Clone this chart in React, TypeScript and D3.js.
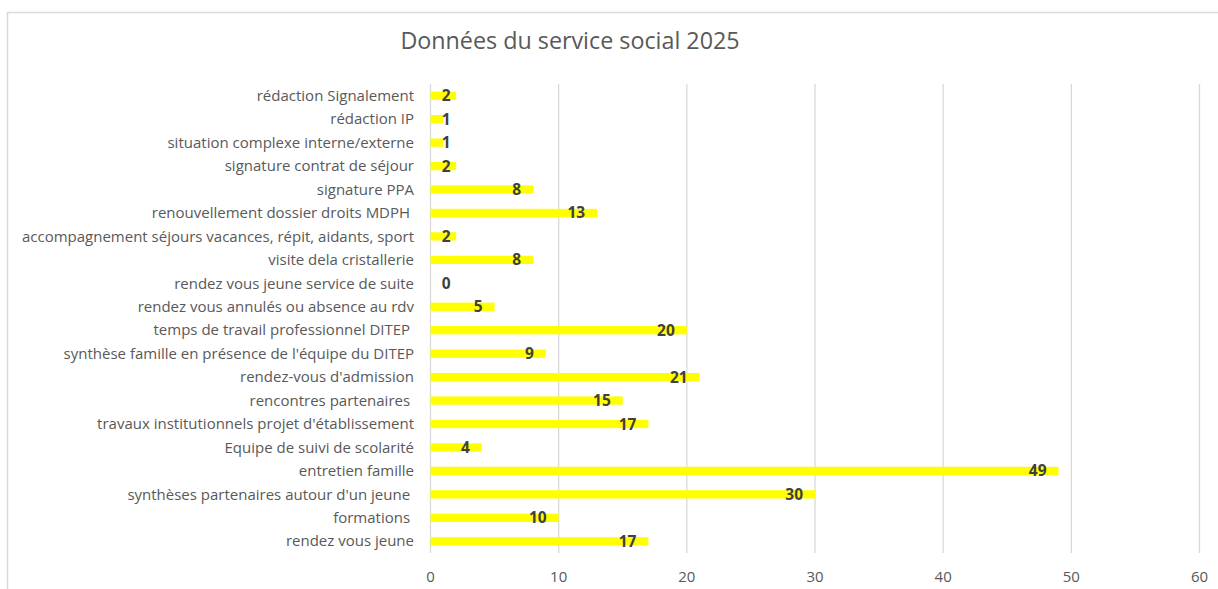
import React from "react";
import * as d3 from "d3";

const title = "Données du service social 2025";
const categories = [
  "rédaction Signalement",
  "rédaction IP",
  "situation complexe interne/externe",
  "signature contrat de séjour",
  "signature PPA",
  "renouvellement dossier droits MDPH ",
  "accompagnement séjours vacances, répit, aidants, sport",
  "visite dela cristallerie",
  "rendez vous jeune service de suite",
  "rendez vous annulés ou absence au rdv",
  "temps de travail professionnel DITEP ",
  "synthèse famille en présence de l'équipe du DITEP",
  "rendez-vous d'admission",
  "rencontres partenaires ",
  "travaux institutionnels projet d'établissement",
  "Equipe de suivi de scolarité",
  "entretien famille",
  "synthèses partenaires autour d'un jeune ",
  "formations ",
  "rendez vous jeune",
];
const values = [2, 1, 1, 2, 8, 13, 2, 8, 0, 5, 20, 9, 21, 15, 17, 4, 49, 30, 10, 17];
const ticks = [0, 10, 20, 30, 40, 50, 60];

const W = 1218;
const H = 589;
const FONT = "'Open Sans', 'Noto Sans', sans-serif";

export default function App() {
  const x = d3.scaleLinear().domain([0, 60]).range([430.5, 1199.5]);
  const y = d3.scaleBand<string>().domain(categories).range([84, 553]).padding(0);
  const bh = 8.3;
  const labelW = (v: number) => String(v).length * 9;

  return (
    <svg
      width={W}
      height={H}
      style={{ position: "absolute", left: 0, top: 0, background: "#fff" }}
    >
      <rect x={7.5} y={12.5} width={1230} height={600} fill="#fff" stroke="#d9d9d9" strokeWidth={1.5} />
      <text x={570} y={49} textAnchor="middle" fontFamily={FONT} fontSize={23.3} fill="#595959">
        {title}
      </text>
      {ticks.map((t) => (
        <g key={t}>
          <line x1={x(t)} x2={x(t)} y1={84} y2={553} stroke="#d9d9d9" strokeWidth={1.3} />
          <text x={x(t)} y={582} textAnchor="middle" fontFamily={FONT} fontSize={15} fill="#595959">
            {t}
          </text>
        </g>
      ))}
      {categories.map((c, i) => {
        const cy = (y(c) as number) + y.bandwidth() / 2;
        const v = values[i];
        const end = x(v) - 12;
        const w = labelW(v);
        const right = Math.max(end, x(0) + 11 + w);
        return (
          <g key={c}>
            <text
              x={414}
              y={cy + 5.2}
              textAnchor="end"
              fontFamily={FONT}
              fontSize={15}
              fill="#595959"
              style={{ whiteSpace: "pre" }}
            >
              {c}
            </text>
            {v > 0 && (
              <rect x={x(0)} y={cy - bh / 2} width={x(v) - x(0)} height={bh} fill="#ffff00" />
            )}
            <text
              x={right}
              y={cy + 5.5}
              textAnchor="end"
              fontFamily={FONT}
              fontWeight="bold"
              fontSize={15.5}
              fill="#404040"
            >
              {v}
            </text>
          </g>
        );
      })}
    </svg>
  );
}
